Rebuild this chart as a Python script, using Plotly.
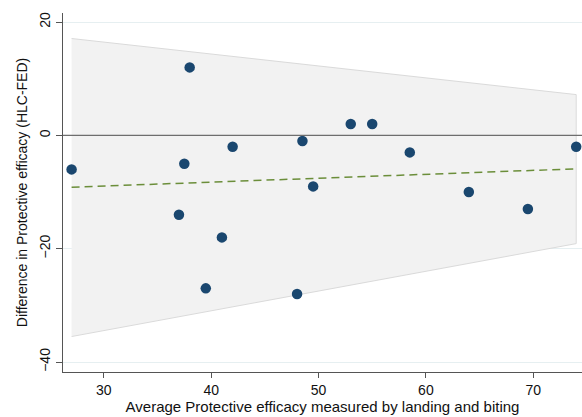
import plotly.graph_objects as go

# Scatter data
avg_pe = [27, 38, 37.5, 42, 48.5, 53, 55, 58.5, 74, 49.5, 64, 69.5, 37, 41, 39.5, 48]
diff_pe = [-6, 12, -5, -2, -1, 2, 2, -3, -2, -9, -10, -13, -14, -18, -27, -28]

# Fitted line and limits band
band_x = [27, 74]
band_upper = [17.1, 7.2]
band_lower = [-35.5, -19.1]
fit_y = [-9.15, -5.9]

x_ticks = [30, 40, 50, 60, 70]
y_ticks = [-40, -20, 0, 20]

FONT = "Liberation Sans, Arial, Helvetica, sans-serif"

fig = go.Figure()

# Band (limits area)
fig.add_trace(go.Scatter(
    x=band_x + band_x[::-1],
    y=band_upper + band_lower[::-1],
    fill="toself", fillcolor="#f2f2f2",
    line=dict(color="#dadada", width=1),
    mode="lines", hoverinfo="skip", showlegend=False,
))

# Zero reference line
fig.add_hline(y=0, line=dict(color="#6e6e6e", width=1.3), layer="above")

# Fitted line
fig.add_trace(go.Scatter(
    x=band_x, y=fit_y, mode="lines",
    line=dict(color="#6b8e3a", width=1.5, dash="8px,5px"),
    showlegend=False,
))

# Points
fig.add_trace(go.Scatter(
    x=avg_pe, y=diff_pe, mode="markers",
    marker=dict(color="#1a476f", size=10.5, line=dict(width=0)),
    showlegend=False, cliponaxis=False,
))

fig.update_layout(
    width=582, height=417,
    margin=dict(l=63, r=0, t=13, b=45),
    paper_bgcolor="white", plot_bgcolor="white",
    font=dict(family=FONT, size=14, color="#111111"),
    showlegend=False,
)

fig.update_xaxes(
    range=[26.2, 74.54], tickvals=x_ticks,
    showgrid=False, zeroline=False,
    showline=True, linecolor="#555555", linewidth=1.3,
    ticks="outside", ticklen=5, tickcolor="#555555", tickwidth=1.2,
    tickfont=dict(size=14, family=FONT),
    title=dict(text="Average Protective efficacy measured by landing and biting",
               font=dict(size=15, family=FONT), standoff=3),
)
fig.update_yaxes(
    range=[-41.76, 21.6], tickvals=y_ticks,
    showgrid=True, gridcolor="#e6eff1", gridwidth=1,
    zeroline=False,
    showline=True, linecolor="#555555", linewidth=1.3,
    ticks="outside", ticklen=6, tickcolor="#555555", tickwidth=1.2,
    tickangle=-90,
    tickfont=dict(size=14, family=FONT),
    title=dict(text="Difference in Protective efficacy (HLC-FED)",
               font=dict(size=14, family=FONT), standoff=6),
)

fig.write_html(
    "out.html",
    config={"displayModeBar": False},
    post_script="document.body.style.margin='0';document.body.style.overflow='hidden';",
)
